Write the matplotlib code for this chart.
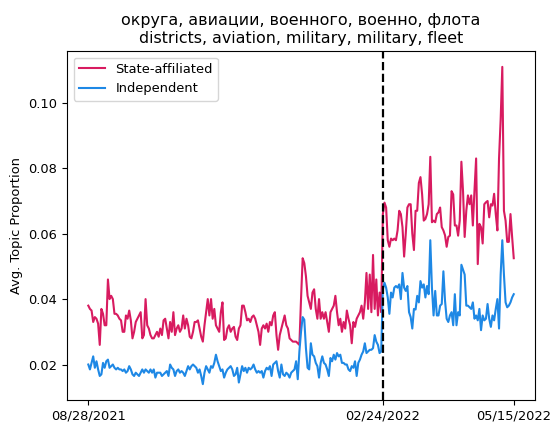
import matplotlib
matplotlib.use("Agg")
import matplotlib.pyplot as plt
import matplotlib.dates as mdates
import pandas as pd

# daily average topic proportion, 08/28/2021 .. 05/15/2022
state = [
    0.038, 0.037, 0.0365, 0.033, 0.0345, 0.034, 0.0325, 0.026, 0.037, 0.0355,
    0.032, 0.032, 0.046, 0.040, 0.041, 0.040, 0.0355, 0.0355, 0.035, 0.034,
    0.0335, 0.030, 0.030, 0.035, 0.034, 0.0365, 0.0335, 0.028, 0.030, 0.033,
    0.034, 0.035, 0.036, 0.028, 0.029, 0.040, 0.032, 0.031, 0.029, 0.028,
    0.028, 0.029, 0.030, 0.0285,
    0.031, 0.029, 0.0335, 0.034, 0.031, 0.028, 0.033, 0.030, 0.036, 0.029,
    0.031, 0.032, 0.030, 0.031, 0.035, 0.031, 0.034, 0.032, 0.0285, 0.028,
    0.030, 0.033, 0.033, 0.0335, 0.031, 0.0285, 0.027, 0.032, 0.036, 0.040,
    0.035, 0.040, 0.034, 0.037, 0.032, 0.031, 0.030, 0.036, 0.039, 0.0275,
    0.028, 0.031, 0.032, 0.030,
    0.031, 0.0315, 0.0285, 0.0275, 0.031, 0.032, 0.038, 0.038, 0.036, 0.0335,
    0.034, 0.033, 0.0345, 0.035, 0.034, 0.032, 0.030, 0.026, 0.031, 0.032,
    0.031, 0.0325, 0.030, 0.033, 0.032, 0.035, 0.036, 0.029, 0.0245, 0.029,
    0.031, 0.033, 0.035, 0.032, 0.031, 0.028, 0.0275, 0.027, 0.027, 0.027,
    0.0265, 0.026, 0.040, 0.0525,
    0.051, 0.047, 0.041, 0.039, 0.037, 0.042, 0.043, 0.037, 0.034, 0.040,
    0.034, 0.036, 0.034, 0.036, 0.033, 0.030, 0.036, 0.037, 0.038, 0.041,
    0.036, 0.032, 0.034, 0.030, 0.033, 0.031, 0.0365, 0.034, 0.032, 0.0265,
    0.033, 0.0315, 0.034, 0.035, 0.036, 0.038, 0.034, 0.039, 0.048, 0.037,
    0.0475, 0.036, 0.0535, 0.037, 0.046, 0.035, 0.042, 0.036,
    0.066, 0.0695, 0.068, 0.058, 0.056, 0.0585, 0.058, 0.0585, 0.058, 0.061,
    0.067, 0.066, 0.062, 0.053, 0.060, 0.068, 0.069, 0.069, 0.060, 0.055,
    0.067, 0.067, 0.0755, 0.0773, 0.072, 0.064, 0.0645, 0.066, 0.069, 0.0835,
    0.0635, 0.064, 0.0635, 0.066, 0.0665, 0.068, 0.062, 0.061, 0.0595, 0.056,
    0.059,
    0.0594, 0.073, 0.072, 0.0625, 0.0625, 0.0594, 0.064, 0.082, 0.073,
    0.059, 0.067, 0.0717, 0.069, 0.0717, 0.0625, 0.0732, 0.083, 0.0507, 0.063,
    0.062, 0.057, 0.069, 0.0696, 0.070, 0.065, 0.069, 0.0686, 0.0722, 0.066,
    0.061, 0.083, 0.095, 0.111, 0.067, 0.064, 0.0575, 0.0575, 0.066, 0.059,
    0.0525,
]

independent = [
    0.020, 0.0185, 0.0205, 0.0225, 0.019, 0.021, 0.0185, 0.0165, 0.017, 0.0205,
    0.019, 0.021, 0.0215, 0.019, 0.0195, 0.020, 0.019, 0.0185, 0.019, 0.0185,
    0.0185, 0.018, 0.0185, 0.0175, 0.018, 0.0195, 0.0185, 0.017, 0.0165, 0.0175,
    0.017, 0.0165, 0.0175, 0.0185, 0.0175, 0.0185, 0.018, 0.0175, 0.0185, 0.0175,
    0.0185, 0.016, 0.0175, 0.0175,
    0.0175, 0.0165, 0.017, 0.0175, 0.018, 0.0165, 0.020, 0.019, 0.0185, 0.0165,
    0.018, 0.0185, 0.0175, 0.018, 0.0175, 0.0165, 0.018, 0.0195, 0.0185, 0.0195,
    0.020, 0.0195, 0.019, 0.0175, 0.0185, 0.0165, 0.014, 0.0175, 0.0195, 0.0185,
    0.0175, 0.0195, 0.019, 0.0205, 0.023, 0.021, 0.0195, 0.018, 0.0185, 0.016,
    0.0175, 0.0185, 0.019, 0.0195,
    0.0185, 0.0165, 0.017, 0.019, 0.0145, 0.017, 0.0195, 0.018, 0.019, 0.0175,
    0.019, 0.0185, 0.019, 0.020, 0.0185, 0.0175, 0.018, 0.0175, 0.018, 0.016,
    0.018, 0.019, 0.0185, 0.0195, 0.0165, 0.020, 0.0205, 0.021, 0.018, 0.016,
    0.020, 0.017, 0.0165, 0.0175, 0.017, 0.016, 0.0175, 0.018, 0.0185, 0.021,
    0.0155, 0.024, 0.030, 0.0345,
    0.0337, 0.025, 0.019, 0.0185, 0.0265, 0.023, 0.0225, 0.0205, 0.0195, 0.016,
    0.0205, 0.0225, 0.0205, 0.020, 0.0185, 0.0165, 0.022, 0.021, 0.023, 0.0215,
    0.0235, 0.0225, 0.023, 0.0205, 0.0205, 0.020, 0.020, 0.0185, 0.018, 0.0195,
    0.019, 0.021, 0.0165, 0.0205, 0.0215, 0.023, 0.024, 0.0265, 0.0235, 0.024,
    0.0245, 0.0245, 0.025, 0.029, 0.027, 0.026, 0.0235, 0.024,
    0.043, 0.045, 0.0435, 0.0405, 0.0355, 0.042, 0.0405, 0.0435, 0.044, 0.0435,
    0.0445, 0.040, 0.048, 0.0435, 0.0425, 0.044, 0.036, 0.0345, 0.031, 0.037,
    0.0368, 0.041, 0.039, 0.0455, 0.0435, 0.0445, 0.0405, 0.044, 0.0415, 0.058,
    0.0435, 0.035, 0.0425, 0.035,
    0.035, 0.038, 0.0385, 0.0485, 0.0395, 0.034, 0.033, 0.035, 0.036, 0.032,
    0.0415, 0.032, 0.036, 0.035, 0.0505, 0.049, 0.0475, 0.038, 0.038, 0.0375,
    0.037, 0.039, 0.034, 0.035, 0.0335, 0.037, 0.0305, 0.035, 0.0335, 0.034,
    0.0385, 0.034, 0.0315, 0.035, 0.0335, 0.037, 0.040, 0.031, 0.0475, 0.058,
    0.0475, 0.039, 0.0375, 0.038, 0.039, 0.0405, 0.0415,
]

start_date = "2021-08-28"
invasion_date = "2022-02-24"
end_date = "2022-05-15"
title = "округа, авиации, военного, военно, флота\ndistricts, aviation, military, military, fleet"

dates = pd.date_range(start_date, periods=len(state), freq="D")

fig = plt.figure(figsize=(5.53, 4.25), dpi=100)
ax = fig.add_axes([0.1212, 0.0588, 0.8463, 0.8212])

ax.plot(dates, state, color="#D81B60", linewidth=1.5, label="State-affiliated")
ax.plot(dates, independent, color="#1E88E5", linewidth=1.5, label="Independent")
ax.axvline(pd.Timestamp(invasion_date), color="black", linestyle="--", linewidth=1.6)

ticks = [pd.Timestamp(d) for d in (start_date, invasion_date, end_date)]
ax.set_xticks(ticks)
ax.xaxis.set_major_formatter(mdates.DateFormatter("%m/%d/%Y"))
ax.set_ylabel("Avg. Topic Proportion", fontsize=9.4)
ax.set_title(title, fontsize=11.4)
ax.tick_params(labelsize=9.4)
ax.legend(loc="upper left", fontsize=9.4)

fig.savefig("out.png", dpi=100)
